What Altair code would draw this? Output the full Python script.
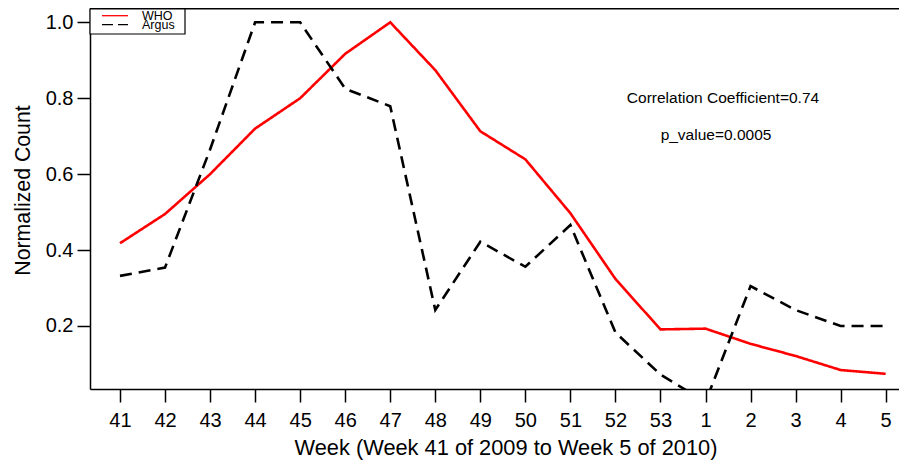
import json
import altair as alt
import pandas as pd

weeks = ["41", "42", "43", "44", "45", "46", "47", "48", "49", "50", "51", "52", "53",
         "1", "2", "3", "4", "5"]
who = [0.418, 0.495, 0.600, 0.720, 0.800, 0.917, 1.000, 0.874, 0.713, 0.639, 0.497,
       0.324, 0.191, 0.193, 0.153, 0.121, 0.084, 0.074]
argus = [0.332, 0.354, 0.665, 1.000, 1.000, 0.825, 0.779, 0.242, 0.422, 0.356, 0.466,
         0.183, 0.072, 0.000, 0.305, 0.242, 0.200, 0.200]
series_names = ["WHO", "Argus"]
series_colors = ["#ff0000", "#000000"]
series_dash = [[1, 0], [12, 7]]
annotations = ["Correlation Coefficient=0.74", "p_value=0.0005"]

rows = []
for i, w in enumerate(weeks):
    rows.append({"idx": i, "week": w, "series": "WHO", "value": who[i]})
    rows.append({"idx": i, "week": w, "series": "Argus", "value": argus[i]})
df = pd.DataFrame(rows)

W, H = 809, 381
FONT = "Liberation Sans"

label_expr = json.dumps(weeks) + "[datum.value]"

axis_style = dict(
    grid=False, domainColor="black", domainWidth=1.5, tickColor="black", tickWidth=1.5,
    tickSize=13, labelColor="black", titleColor="black", labelFont=FONT, titleFont=FONT,
    labelFontSize=20, titleFontWeight="normal",
)

base = alt.Chart(df)

lines = base.mark_line(strokeWidth=2.6, clip=True).encode(
    x=alt.X("idx:Q",
            scale=alt.Scale(domain=[-0.666, 17.296], nice=False, zero=False),
            axis=alt.Axis(values=list(range(len(weeks))), labelExpr=label_expr,
                          title="Week (Week 41 of 2009 to Week 5 of 2010)",
                          titleFontSize=21.8, titleX=415.5,
                          labelPadding=8, titlePadding=7, **axis_style)),
    y=alt.Y("value:Q",
            scale=alt.Scale(domain=[0.034, 1.0377], nice=False, zero=False),
            axis=alt.Axis(values=[0.2, 0.4, 0.6, 0.8, 1.0], format=".1f",
                          title="Normalized Count", titleFontSize=21.3, titleY=182,
                          labelPadding=4, titlePadding=12,
                          **axis_style)),
    color=alt.Color("series:N", scale=alt.Scale(domain=series_names, range=series_colors),
                    legend=None),
    strokeDash=alt.StrokeDash("series:N",
                              scale=alt.Scale(domain=series_names, range=series_dash),
                              legend=None),
    order=alt.Order("idx:Q"),
    detail="series:N",
)

one = pd.DataFrame({"k": [0]})

top_border = alt.Chart(one).mark_rule(color="black", strokeWidth=1.5).encode(
    x=alt.value(0), x2=alt.value(W), y=alt.value(0.75))

legend_box = alt.Chart(one).mark_rect(fill="white", stroke="black", strokeWidth=1.2).encode(
    x=alt.value(0), x2=alt.value(95), y=alt.value(1), y2=alt.value(26))

leg_who = alt.Chart(one).mark_rule(color="#ff0000", strokeWidth=1.3).encode(
    x=alt.value(12), x2=alt.value(38), y=alt.value(7.7))
leg_argus = alt.Chart(one).mark_rule(color="black", strokeWidth=1.3, strokeDash=[11, 5]).encode(
    x=alt.value(12), x2=alt.value(38), y=alt.value(16.7))
leg_t1 = alt.Chart(one).mark_text(text=series_names[0], font=FONT, fontSize=12.5,
                                  align="left", baseline="middle").encode(
    x=alt.value(52), y=alt.value(8))
leg_t2 = alt.Chart(one).mark_text(text=series_names[1], font=FONT, fontSize=12.5,
                                  align="left", baseline="middle").encode(
    x=alt.value(52), y=alt.value(16.5))

ann1 = alt.Chart(one).mark_text(text=annotations[0], font=FONT, fontSize=15.5,
                                align="center", baseline="middle").encode(
    x=alt.value(633), y=alt.value(90))
ann2 = alt.Chart(one).mark_text(text=annotations[1], font=FONT, fontSize=15.5,
                                align="center", baseline="middle").encode(
    x=alt.value(626), y=alt.value(127))

chart = alt.layer(
    lines, top_border, legend_box, leg_who, leg_argus, leg_t1, leg_t2, ann1, ann2
).properties(
    width=W, height=H,
    background="white",
    autosize=alt.AutoSizeParams(type="none"),
    padding={"left": 82, "top": 0, "right": 0, "bottom": 80},
).configure_view(
    stroke=None
)

chart.save("out.html", embed_options={"renderer": "svg", "actions": False})
